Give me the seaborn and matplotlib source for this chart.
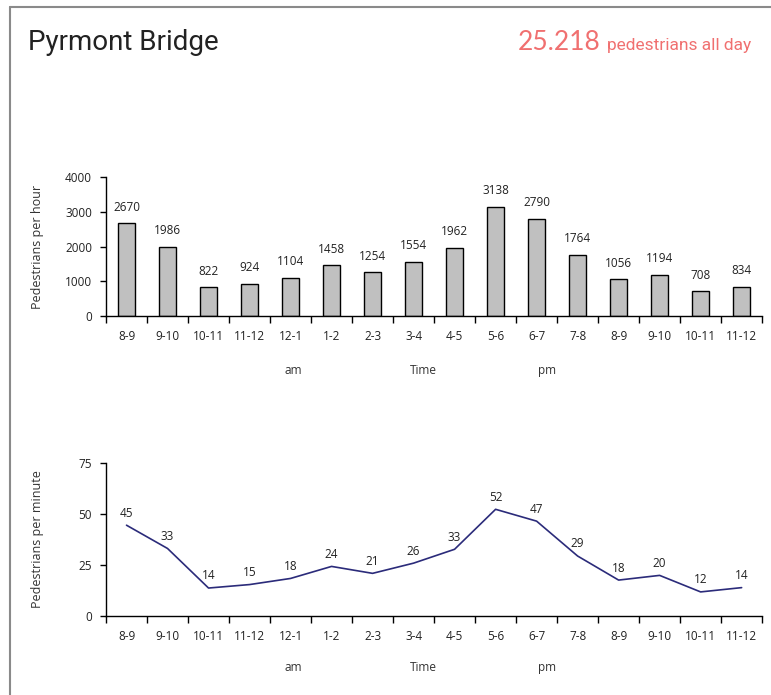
import numpy as np
import pandas as pd
import matplotlib
matplotlib.use('Agg')
import matplotlib.pyplot as plt
import seaborn as sns

# hourly counts, 8am to midnight
slots = ['8-9', '9-10', '10-11', '11-12', '12-1', '1-2', '2-3', '3-4',
         '4-5', '5-6', '6-7', '7-8', '8-9', '9-10', '10-11', '11-12']
per_hour = [2670, 1986, 822, 924, 1104, 1458, 1254, 1554,
            1962, 3138, 2790, 1764, 1056, 1194, 708, 834]
per_minute = [44.5, 33.1, 13.7, 15.4, 18.4, 24.3, 20.9, 25.9,
              32.7, 52.3, 46.5, 29.4, 17.6, 19.9, 11.8, 13.9]
minute_labels = [45, 33, 14, 15, 18, 24, 21, 26, 33, 52, 47, 29, 18, 20, 12, 14]
hour_ticks = [0, 1000, 2000, 3000, 4000]
minute_ticks = [0, 25, 50, 75]
total = '25.218'

sns.set_style('white')
plt.rcParams['font.family'] = ['Open Sans', 'DejaVu Sans']

df = pd.DataFrame({'slot': np.arange(len(slots)), 'hour': per_hour, 'minute': per_minute})

fig = plt.figure(figsize=(7.71, 6.95), dpi=100)
fig.set_facecolor('white')

# partial frame round the card
fig.add_artist(plt.Line2D([0.013, 0.013], [0, 0.99], transform=fig.transFigure, color='#8a8a8a', lw=1.5))
fig.add_artist(plt.Line2D([0.013, 1], [0.99, 0.99], transform=fig.transFigure, color='#8a8a8a', lw=1.5))

fig.text(0.036, 0.928, 'Pyrmont Bridge', fontsize=20, family='Roboto', color='#222222', va='baseline')
fig.text(0.779, 0.928, total, fontsize=19, family='Lato', color='#f07070', ha='right', va='baseline')
fig.text(0.975, 0.928, 'pedestrians all day', fontsize=12.5, family='Roboto', color='#f07070',
         ha='right', va='baseline')

ax1 = fig.add_axes([0.1375, 0.5453, 0.851, 0.2])
ax2 = fig.add_axes([0.1375, 0.1137, 0.851, 0.2201])

sns.barplot(data=df, x='slot', y='hour', color='#c0c0c0', edgecolor='black', linewidth=1,
            width=0.42, saturation=1, ax=ax1)
for i, v in enumerate(per_hour):
    ax1.annotate(f'{v}', (i, v), xytext=(0, 7), textcoords='offset points',
                 ha='center', va='bottom', fontsize=8.5, color='#222222')
ax1.set_ylim(0, 4000)
ax1.set_yticks(hour_ticks)
ax1.set_ylabel('Pedestrians per hour', fontsize=9, color='#333333')

sns.lineplot(data=df, x='slot', y='minute', color='#2b2b7a', linewidth=1.2, ax=ax2)
for i, (v, lab) in enumerate(zip(per_minute, minute_labels)):
    ax2.annotate(f'{lab}', (i, v), xytext=(0, 4), textcoords='offset points',
                 ha='center', va='bottom', fontsize=8.5, color='#222222')
ax2.set_ylim(0, 75)
ax2.set_yticks(minute_ticks)
ax2.set_ylabel('Pedestrians per minute', fontsize=9, color='#333333')

for ax in (ax1, ax2):
    ax.set_xlim(-0.5, len(slots) - 0.5)
    ax.set_xticks(np.arange(len(slots)))
    ax.set_xticklabels(slots)
    ax.set_xticks(np.arange(len(slots) + 1) - 0.5, minor=True)
    ax.tick_params(axis='x', which='major', length=0, pad=10, labelsize=8.5, labelcolor='#222222')
    ax.tick_params(axis='x', which='minor', length=5, width=1, color='black', direction='out', bottom=True)
    ax.tick_params(axis='y', length=4, width=1, color='black', direction='out', left=True,
                   labelsize=8.5, labelcolor='#222222', pad=6)
    ax.set_xlabel('')
    for side in ('top', 'right'):
        ax.spines[side].set_visible(False)
    for side in ('left', 'bottom'):
        ax.spines[side].set_color('black')
        ax.spines[side].set_linewidth(1)
    ax.grid(False)
    ax.set_facecolor('white')
    ax.yaxis.set_label_coords(-0.095, 0.5)

# am / Time / pm captions under each chart
for y in (0.467, 0.040):
    fig.text(0.380, y, 'am', fontsize=8.5, color='#333333', ha='center', va='center')
    fig.text(0.549, y, 'Time', fontsize=8.5, color='#333333', ha='center', va='center')
    fig.text(0.709, y, 'pm', fontsize=8.5, color='#333333', ha='center', va='center')

fig.savefig('out.png', dpi=100)
